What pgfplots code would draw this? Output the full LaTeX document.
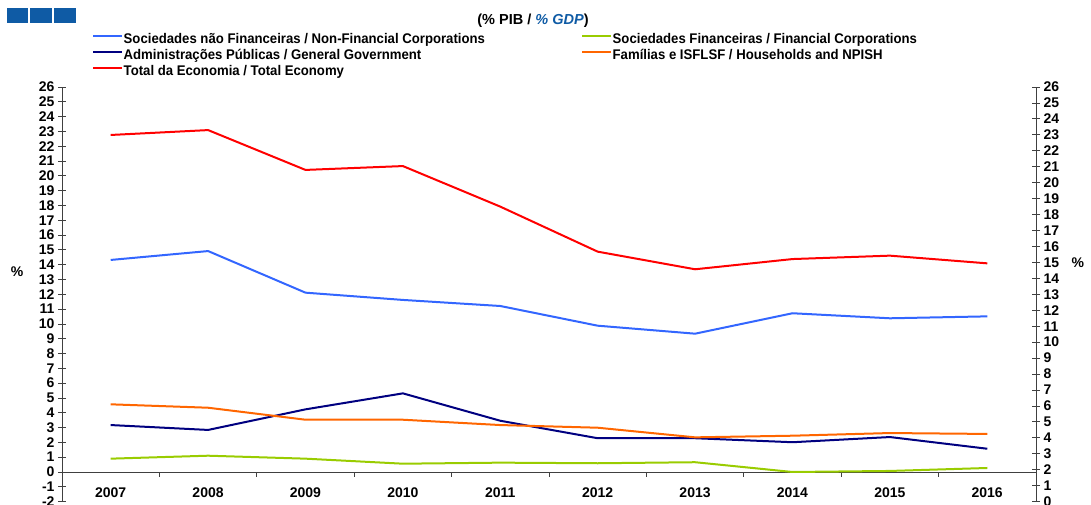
\documentclass[border=0pt]{standalone}
\usepackage{fontspec}
\setmainfont{Liberation Sans}
\newfontfamily\legfont{Liberation Sans}[FakeStretch=0.94]
\usepackage{pgfplots}
\pgfplotsset{compat=1.18}
\definecolor{nfc}{HTML}{3366FF}
\definecolor{fc}{HTML}{99CC00}
\definecolor{gg}{HTML}{000080}
\definecolor{hh}{HTML}{FF6600}
\definecolor{tot}{HTML}{FF0000}
\definecolor{axgrey}{HTML}{404040}
\definecolor{logoblue}{HTML}{0F5BA5}

\begin{document}
\begin{tikzpicture}
\path[use as bounding box] (0,0) rectangle (1091pt,504pt);
% logo blocks
\fill[logoblue] (7pt,481pt) rectangle (28pt,496pt);
\fill[logoblue] (30pt,481pt) rectangle (52pt,496pt);
\fill[logoblue] (54pt,481pt) rectangle (76pt,496pt);
\node[font=\fontsize{14.5}{16}\selectfont\bfseries] at (533pt,483pt) {(\% PIB / {\color{logoblue}\itshape\% GDP})};

\begin{axis}[
  at={(62pt,2.4pt)}, anchor=south west,
  scale only axis, width=974pt, height=414.6pt,
  xmin=2006.5, xmax=2016.5, ymin=-2, ymax=26,
  axis x line*=middle, axis y line*=left,
  axis line style={axgrey, line width=0.8pt},
  xtick={2007,...,2016}, major x tick style={draw=none},
  minor xtick={2006.5,2007.5,...,2016.5},
  minor x tick style={axgrey, line width=0.8pt},
  minor tick length=5pt,
  xtick align=outside,
  xticklabel style={font=\fontsize{14}{16}\selectfont\bfseries, yshift=-4pt},
  /pgf/number format/1000 sep={},
  ytick={-2,...,26},
  ytick align=center, major tick length=8pt,
  y tick style={axgrey, line width=0.8pt},
  yticklabel style={font=\fontsize{14}{16}\selectfont\bfseries},
  /pgf/number format/assume math mode=true,
  ylabel={\%}, ylabel style={rotate=-90, font=\fontsize{14}{16}\selectfont\bfseries, at={(axis description cs:-0.046,0.554)}, anchor=center},
  clip=false,
  legend columns=2,
  legend cell align=left,
  legend image code/.code={\draw[#1] (0pt,4pt) -- (29pt,4pt);},
  legend style={at={(axis description cs:0.0308,1.132)}, anchor=north west,
    draw=none, fill=none, inner sep=0pt, column sep=0pt, row sep=0pt,
    font=\fontsize{14}{16}\selectfont\legfont\bfseries,
    nodes={inner xsep=0.5pt, inner ysep=0pt, text height=11pt, text depth=5pt}},
  every axis plot/.append style={line width=2pt},
]
\addplot[nfc] coordinates {(2007,14.32) (2008,14.92) (2009,12.11) (2010,11.62) (2011,11.21) (2012,9.88) (2013,9.34) (2014,10.72) (2015,10.38) (2016,10.51)};
\addlegendentry{\makebox[457pt][l]{Sociedades não Financeiras / Non-Financial Corporations}}
\addplot[fc] coordinates {(2007,0.90) (2008,1.10) (2009,0.90) (2010,0.56) (2011,0.63) (2012,0.59) (2013,0.66) (2014,0.00) (2015,0.07) (2016,0.27)};
\addlegendentry{Sociedades Financeiras / Financial Corporations}
\addplot[gg] coordinates {(2007,3.17) (2008,2.84) (2009,4.23) (2010,5.31) (2011,3.46) (2012,2.28) (2013,2.28) (2014,2.01) (2015,2.36) (2016,1.57)};
\addlegendentry{\makebox[457pt][l]{Administrações Públicas / General Government}}
\addplot[hh] coordinates {(2007,4.57) (2008,4.34) (2009,3.53) (2010,3.53) (2011,3.17) (2012,2.99) (2013,2.34) (2014,2.45) (2015,2.63) (2016,2.57)};
\addlegendentry{Famílias e ISFLSF / Households and NPISH}
\addplot[tot] coordinates {(2007,22.76) (2008,23.09) (2009,20.40) (2010,20.66) (2011,17.92) (2012,14.88) (2013,13.69) (2014,14.38) (2015,14.61) (2016,14.09)};
\addlegendentry{Total da Economia / Total Economy}
\end{axis}

\begin{axis}[
  at={(62pt,2.4pt)}, anchor=south west,
  scale only axis, width=974pt, height=414.6pt,
  xmin=2006.5, xmax=2016.5, ymin=0, ymax=26,
  axis x line=none, axis y line*=right,
  axis line style={axgrey, line width=0.8pt},
  ytick={0,...,26},
  ytick align=center, major tick length=8pt,
  y tick style={axgrey, line width=0.8pt},
  yticklabel style={font=\fontsize{14}{16}\selectfont\bfseries},
  /pgf/number format/assume math mode=true,
  ylabel={\%}, ylabel style={rotate=-90, font=\fontsize{14}{16}\selectfont\bfseries, at={(axis description cs:1.043,0.5755)}, anchor=center},
  clip=false,
]
\end{axis}
\end{tikzpicture}
\end{document}
